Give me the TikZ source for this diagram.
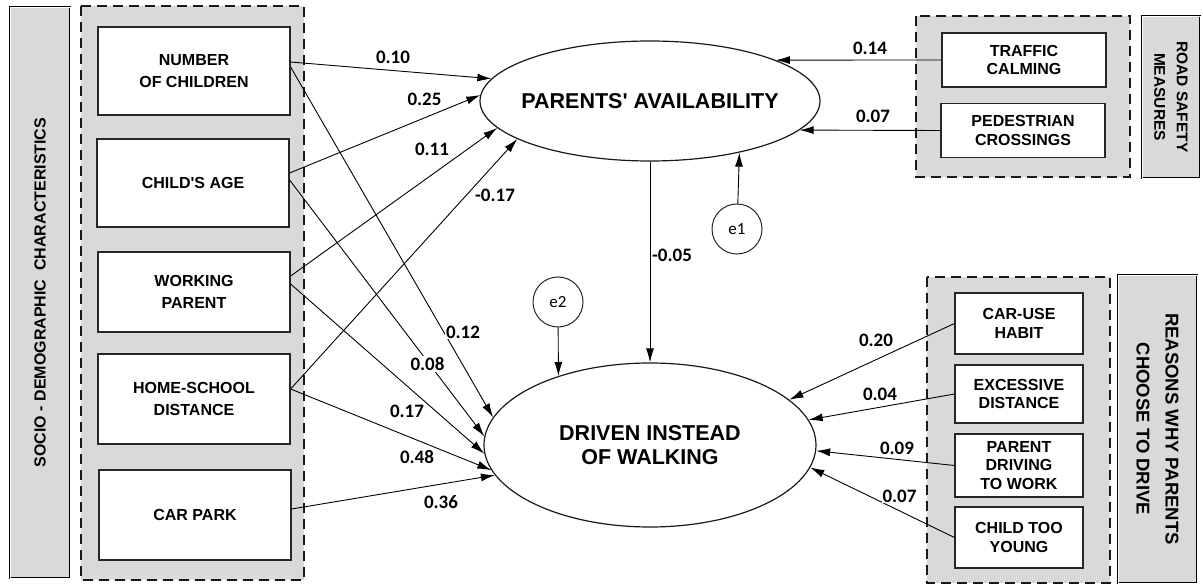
\documentclass[tikz,border=0pt]{standalone}
\usepackage{fontspec}
\setmainfont{Liberation Sans}
\newfontfamily\calibri{Carlito}
\usepackage{tikz}
\usetikzlibrary{shapes,arrows,arrows.meta,positioning}
\tikzstyle{group} = [draw=black!90, fill=black!15, line width=2.7pt, dash pattern=on 10pt off 6pt]
\tikzstyle{grouptitle} = [draw=black, fill=black!15, line width=1.1pt, double, double distance=0.5pt, align=center, inner sep=0pt, font=\bfseries\fontsize{16}{20}\selectfont]
\tikzstyle{var} = [rectangle, draw=black!85, fill=white, line width=1.2pt, align=center, inner sep=2pt, minimum width=192pt, font=\bfseries\fontsize{16}{21.5}\selectfont]
\tikzstyle{smallvar} = [var, font=\bfseries\fontsize{16}{18.5}\selectfont]
\tikzstyle{latent} = [ellipse, draw=black!90, fill=white, line width=1.2pt, inner sep=0pt]
\tikzstyle{lattext} = [align=center, font=\bfseries\fontsize{21.5}{24}\selectfont]
\tikzstyle{err} = [circle, draw=black!85, fill=white, line width=1pt, minimum size=50pt, inner sep=0pt, font=\calibri\fontsize{17}{20}\selectfont]
\tikzstyle{coef} = [fill=white, inner sep=1pt, font=\calibri\bfseries\fontsize{19}{22}\selectfont]
\tikzstyle{arrow} = [line width=0.9pt, -{Latex[length=14pt,width=8pt]}]

\begin{document}
\begin{tikzpicture}[x=1pt, y=-1pt]
\useasboundingbox (0,0) rectangle (1203,585);

%% Group frames
\draw[group] (81,6) rectangle (304,580);
\draw[group] (916,16) rectangle (1130,177);
\draw[group] (927,277) rectangle (1110,583);

%% Group titles
\node[grouptitle, rotate=90, minimum width=571pt, minimum height=60pt] (socio) at (40,292.5) {SOCIO - DEMOGRAPHIC\ \ CHARACTERISTICS};
\node[grouptitle, rotate=-90, minimum width=162pt, minimum height=58pt, font=\bfseries\fontsize{15.5}{22.5}\selectfont] (road) at (1171,97) {ROAD SAFETY\\MEASURES};
\node[grouptitle, rotate=-90, minimum width=308pt, minimum height=79pt, font=\bfseries\fontsize{18.5}{29}\selectfont] (reasons) at (1157.5,429) {REASONS WHY PARENTS\\CHOOSE TO DRIVE};

% SOCIO-DEMOGRAPHIC
\node[var, minimum height=88pt] (nchild) at (194,71) {NUMBER\\OF CHILDREN};
\node[var, minimum height=88pt] (age) at (193,183) {CHILD\textquotesingle S AGE};
\node[var, minimum height=80pt] (work) at (194,292) {WORKING\\PARENT};
\node[var, minimum height=90pt] (dist) at (194,399) {HOME-SCHOOL\\DISTANCE};
\node[var, minimum height=90pt] (park) at (195,515) {CAR PARK};

% ROAD SAFETY
\node[smallvar, minimum width=164pt, minimum height=54pt] (traffic) at (1024,60) {TRAFFIC\\CALMING};
\node[smallvar, minimum width=164pt, minimum height=54pt] (cross) at (1023,130.5) {PEDESTRIAN\\CROSSINGS};

% REASONS
\node[smallvar, minimum width=128pt, minimum height=61pt] (habit) at (1019,323.5) {CAR-USE\\HABIT};
\node[smallvar, minimum width=128pt, minimum height=58pt] (excess) at (1019,394) {EXCESSIVE\\DISTANCE};
\node[smallvar, minimum width=128pt, minimum height=63pt] (drivework) at (1019,465.5) {PARENT\\DRIVING\\TO WORK};
\node[smallvar, minimum width=128pt, minimum height=61pt] (young) at (1019,537.5) {CHILD TOO\\YOUNG};

% LATENT
\node[latent, minimum width=340pt, minimum height=120pt, label={[lattext]center:PARENTS\textquotesingle\ AVAILABILITY}] (pa) at (650,101) {};
\node[latent, minimum width=332pt, minimum height=164pt, label={[lattext]center:{DRIVEN INSTEAD\\OF WALKING}}] (diw) at (650,445) {};

% ERRORS
\node[err] (e1) at (737,229) {e1};
\node[err] (e2) at (558,302) {e2};

%% Paths to parents' availability
\draw[arrow] ([yshift=9pt]nchild.east) -- (pa.172.2);
\draw[arrow] ([yshift=10pt]age.east) -- (pa.178);
\draw[arrow] ([yshift=16pt]work.east) -- (pa.190.1);
\draw[arrow] ([yshift=10pt]dist.east) -- (pa.196.1);
\draw[arrow] (traffic.west) -- (pa.18.6);
\draw[arrow] (cross.west) -- (pa.-11.2);
\draw[arrow] (e1) -- (pa.-30.6);

%% Paths to driven instead of walking
\draw[arrow] (pa) -- (diw);
\draw[arrow] (e2) -- (diw.143.4);
\draw[arrow] ([yshift=4pt]nchild.east) -- (diw.170.4);
\draw[arrow] ([yshift=3pt]age.east) -- (diw.177.6);
\draw[arrow] ([yshift=8pt]work.east) -- (diw.183.6);
\draw[arrow] ([yshift=10pt]dist.east) -- (diw.189);
\draw[arrow] ([yshift=6pt]park.east) -- (diw.191);
\draw[arrow] (habit.west) -- (diw.18.3);
\draw[arrow] (excess.west) -- (diw.9.6);
\draw[arrow] (drivework.west) -- (diw.-2);
\draw[arrow] (young.west) -- (diw.-8.5);

%% Coefficients
\node[coef] (b-nchild-pa) at (393,57.5) {0.10};
\node[coef] (b-age-pa) at (424.5,99) {0.25};
\node[coef] (b-work-pa) at (432,149) {0.11};
\node[coef] (b-dist-pa) at (495,195) {-0.17};
\node[coef] (b-traffic) at (870,48) {0.14};
\node[coef] (b-cross) at (873,116) {0.07};
\node[coef] (b-pa-diw) at (672,255) {-0.05};
\node[coef] (b-nchild-diw) at (463,332) {0.12};
\node[coef] (b-age-diw) at (427.5,364) {0.08};
\node[coef] (b-work-diw) at (407,411) {0.17};
\node[coef] (b-dist-diw) at (417,457) {0.48};
\node[coef] (b-park-diw) at (441,502) {0.36};
\node[coef] (b-habit) at (876,340) {0.20};
\node[coef] (b-excess) at (880,394) {0.04};
\node[coef] (b-drivework) at (897,448) {0.09};
\node[coef] (b-young) at (899.5,496) {0.07};
\end{tikzpicture}
\end{document}
